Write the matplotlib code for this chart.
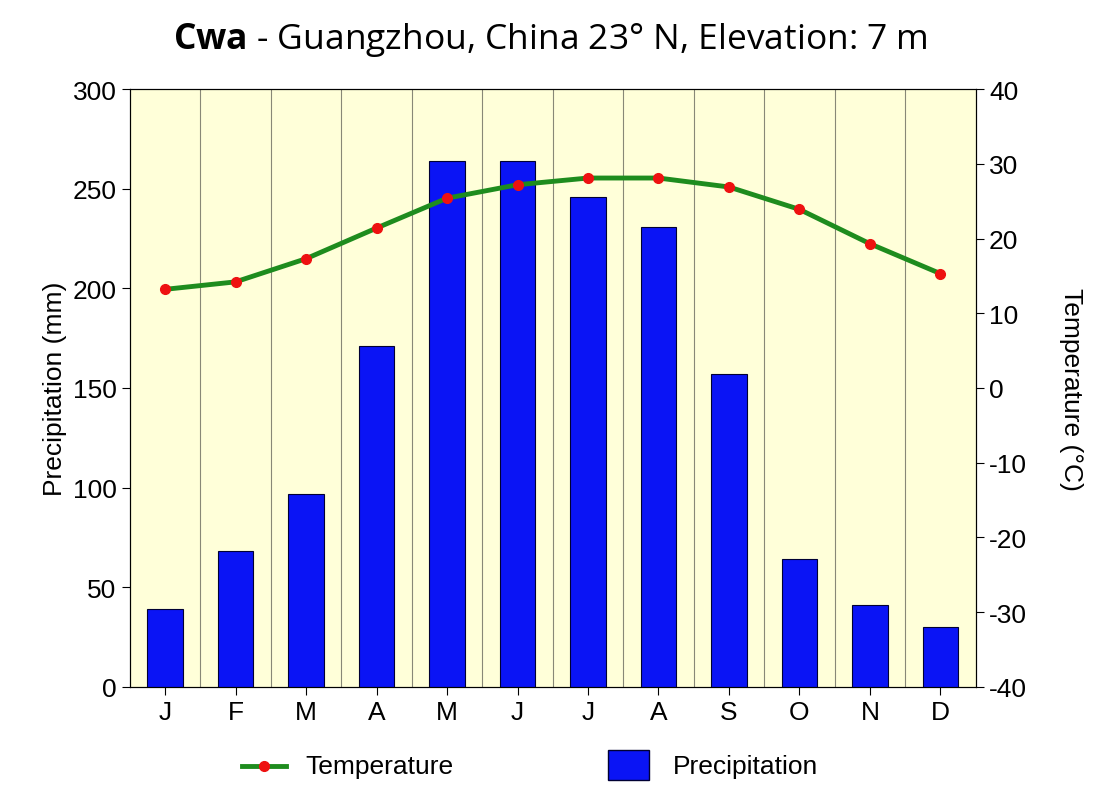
import matplotlib.pyplot as plt
import numpy as np

months = ["J", "F", "M", "A", "M", "J", "J", "A", "S", "O", "N", "D"]
precip = [39, 68, 97, 171, 264, 264, 246, 231, 157, 64, 41, 30]
temp = [13.2, 14.2, 17.3, 21.4, 25.4, 27.2, 28.1, 28.1, 26.9, 23.9, 19.3, 15.3]

plt.rcParams['font.family'] = ['Liberation Sans', 'DejaVu Sans']
plt.rcParams['axes.unicode_minus'] = False
plt.rcParams['mathtext.fontset'] = 'custom'
plt.rcParams['mathtext.bf'] = 'Open Sans:bold'
plt.rcParams['mathtext.rm'] = 'Open Sans'

fig = plt.figure(figsize=(11, 8.12), dpi=100)
ax = fig.add_axes([0.118, 0.153, 0.769, 0.736])
ax.set_facecolor('#ffffd9')
x = np.arange(12)
ax.bar(x, precip, width=0.5, color='#0a14f5', edgecolor='#000033', linewidth=0.8, zorder=3)
for xv in np.arange(0.5, 11.5, 1):
    ax.axvline(xv, color='#888877', lw=0.8, zorder=1)
ax.set_xlim(-0.5, 11.5)
ax.set_ylim(0, 300)
ax.set_yticks(range(0, 301, 50))
ax.set_xticks(x)
ax.set_xticklabels(months)
ax.set_ylabel("Precipitation (mm)", fontsize=19)
ax.tick_params(labelsize=19, direction='out', length=6)

ax2 = ax.twinx()
ax2.plot(x, temp, color='#1e8c1e', lw=3.5, zorder=4)
ax2.plot(x, temp, 'o', color='#ee1111', ms=7, zorder=5)
ax2.set_ylim(-40, 40)
ax2.set_yticks(range(-40, 41, 10))
ax2.set_ylabel("Temperature (°C)", fontsize=19, rotation=270, labelpad=40)
ax2.tick_params(labelsize=19, direction='out', length=6)

fig.text(0.5, 0.94, r"$\bf{Cwa}$ - Guangzhou, China 23° N, Elevation: 7 m",
         ha='center', fontsize=25.5, family='Open Sans')

# legend
fig.lines.append(plt.Line2D([0.22, 0.26], [0.056, 0.056], color='#1e8c1e', lw=3.5, transform=fig.transFigure))
fig.lines.append(plt.Line2D([0.24], [0.056], marker='o', color='#ee1111', ms=7, transform=fig.transFigure))
fig.text(0.278, 0.056, "Temperature", fontsize=19, va='center')
fig.patches.append(plt.Rectangle((0.553, 0.038), 0.037, 0.037, facecolor='#0a14f5', edgecolor='#000033', transform=fig.transFigure))
fig.text(0.612, 0.056, "Precipitation", fontsize=19, va='center')

plt.savefig("out.png")
